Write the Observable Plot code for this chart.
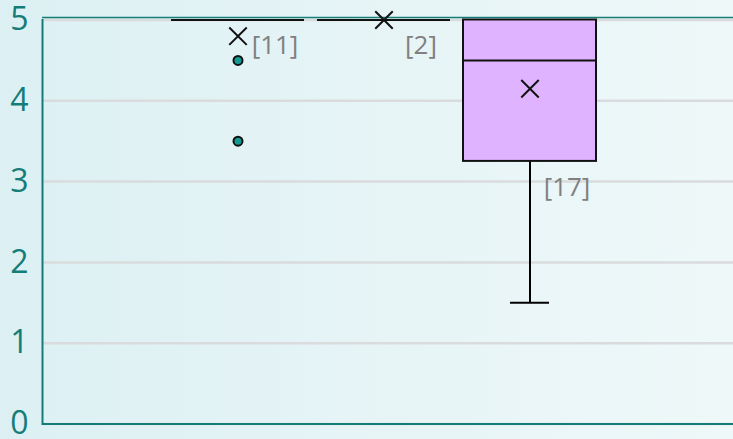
<!DOCTYPE html>
<html>
<head>
<meta charset="utf-8">
<script src="https://cdn.jsdelivr.net/npm/d3@7"></script>
<script src="https://cdn.jsdelivr.net/npm/@observablehq/plot@0.6"></script>
<style>
  html, body { margin: 0; padding: 0; }
  body { width: 733px; height: 439px; overflow: hidden;
         background: linear-gradient(to right, #dcf0f3 0%, #e6f4f6 50%, #eef8f9 100%); }
  svg { display: block; background: transparent !important; }
</style>
</head>
<body>
<div id="chart"></div>
<script>
// ---- data ----
const groups = ["A", "B", "C"];
const q1s = [5, 5, 3.25];
const medians = [5, 5, 4.5];
const q3s = [5, 5, 5];
const lows = [5, 5, 1.5];
const highs = [5, 5, 5];
const means = [4.8, 5, 4.15];
const counts = [11, 2, 17];
const outlierGroups = ["A", "A"];
const outlierValues = [4.5, 3.5];
const yTicks = [0, 1, 2, 3, 4, 5];

const stats = groups.map((g, i) => ({
  group: g, q1: q1s[i], median: medians[i], q3: q3s[i],
  lo: lows[i], hi: highs[i], mean: means[i], n: counts[i]
}));
const outliers = outlierGroups.map((g, i) => ({group: g, value: outlierValues[i]}));

const teal = "#147d78";
const chart = Plot.plot({
  width: 733,
  height: 439,
  marginLeft: 42,
  marginTop: 19.5,
  marginBottom: 15.5,
  marginRight: 0,
  style: {fontFamily: "'Open Sans', sans-serif", background: "transparent", overflow: "visible"},
  x: {type: "band", domain: groups, range: [158.5, 609.5], padding: 0.089, axis: null},
  y: {domain: [0, 5], axis: null},
  marks: [
    Plot.ruleY(yTicks, {stroke: "#d9dbdc", strokeWidth: 2.5}),
    Plot.ruleY([0], {stroke: teal, strokeWidth: 2}),
    Plot.ruleY([5], {stroke: teal, strokeWidth: 1.5, dy: -2.5}),
    Plot.frame({anchor: "left", stroke: teal, strokeWidth: 2}),
    Plot.axisY(yTicks, {tickSize: 0, tickPadding: 14, fontSize: 32, fill: teal, label: null, tickFormat: d3.format("d")}),
    Plot.ruleX(stats, {x: "group", y1: "lo", y2: "q1", stroke: "black", strokeWidth: 2}),
    Plot.ruleX(stats, {x: "group", y1: "q3", y2: "hi", stroke: "black", strokeWidth: 2}),
    Plot.tickY(stats, {x: "group", y: "lo", stroke: "black", strokeWidth: 2, inset: 47}),
    Plot.barY(stats, {x: "group", y1: "q1", y2: "q3", fill: "#dfb3ff", stroke: "#111", strokeWidth: 2}),
    Plot.tickY(stats, {x: "group", y: "median", stroke: "#111", strokeWidth: 2}),
    Plot.dot(stats, {x: "group", y: "mean", symbol: "times", r: 8, stroke: "#111", strokeWidth: 2}),
    Plot.dot(outliers, {x: "group", y: "value", r: 4.5, fill: "#139a93", stroke: "#111", strokeWidth: 2}),
    Plot.text(stats, {x: "group", y: d => d.q1 - 0.32, text: d => `[${d.n}]`, dx: 37, fontSize: 26, fill: "#808080"})
  ]
});
document.getElementById("chart").appendChild(chart);
</script>
</body>
</html>
